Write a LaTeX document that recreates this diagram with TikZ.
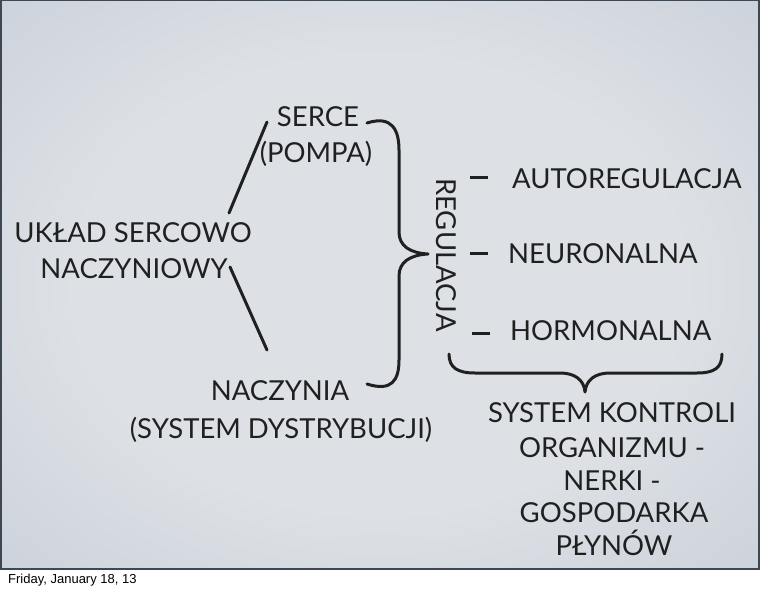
\documentclass[tikz,border=0pt]{standalone}
\usepackage{fontspec}
\setmainfont{Lato}
\newfontfamily\footfont{Liberation Sans}
\usetikzlibrary{calc}
\definecolor{slideink}{HTML}{202020}
\definecolor{slideedge}{HTML}{3E4852}
\definecolor{bginner}{HTML}{DDE1E6}
\definecolor{bgouter}{HTML}{A7B2C0}
\pgfdeclareradialshading{slidebg}{\pgfpoint{0bp}{0bp}}{color(0bp)=(bginner); color(20bp)=(bginner); color(71bp)=(bgouter)}

\begin{document}
\begin{tikzpicture}[x=1pt,y=-1pt,
	word/.style={text=slideink,inner sep=0pt,font=\fontsize{27.5}{32}\selectfont},
	stroke/.style={slideink,line width=3pt,line cap=round,line join=round}]
	\useasboundingbox (0,0) rectangle (760,591);
	\fill[white] (0,0) rectangle (760,591);
	\shade[shading=slidebg] (0,0) rectangle (759,569);
	\draw[slideedge,line width=1.5pt] (0.75,0.75) rectangle (759,569);

	% left part
	\node[word,anchor=base] (serce) at (318,127) {SERCE};
	\node[word,anchor=base] (pompa) at (316,162) {(POMPA)};
	\node[word,anchor=base] (uklad) at (133,242) {UKŁAD SERCOWO};
	\node[word,anchor=base] (naczyniowy) at (134,278) {NACZYNIOWY};
	\node[word,anchor=base] (naczynia) at (280,400) {NACZYNIA};
	\node[word,anchor=base] (dystr) at (281,438) {(SYSTEM DYSTRYBUCJI)};
	\coordinate (hub up) at (229,213);
	\coordinate (hub down) at (230,267);
	\coordinate (serce end) at (267,122);
	\coordinate (naczynia end) at (267,350);
	\draw[stroke] (hub up) -- (serce end);
	\draw[stroke] (hub down) -- (naczynia end);

	% brace
	\draw[stroke] (367,123) .. controls (392,115) and (399,130) .. (399,150) -- (399,232)
		.. controls (399,246) and (410,253) .. (428,254)
		.. controls (410,255) and (399,262) .. (399,276) -- (399,360)
		.. controls (399,380) and (392,392) .. (367,384);
	\node[word,rotate=-90] (regulacja) at (446,255) {REGULACJA};

	% right part
	\node[word,anchor=base west] (auto) at (512,188) {AUTOREGULACJA};
	\node[word,anchor=base west] (neuro) at (508,263) {NEURONALNA};
	\node[word,anchor=base west] (hormo) at (510,340) {HORMONALNA};
	\foreach \y/\x in {177/470,253/470,333/472}{
		\draw[slideink,line width=3pt] (\x,\y) -- ++(18,0);
	}
	\draw[stroke] (449,354) .. controls (449,368) and (458,373) .. (475,373) -- (560,373)
		.. controls (575,373) and (584,380) .. (585,392)
		.. controls (586,380) and (595,373) .. (610,373) -- (697,373)
		.. controls (714,373) and (722,368) .. (722,354);
	\node[word,anchor=base] (kontroli) at (612,422) {SYSTEM KONTROLI};
	\node[word,anchor=base] (organizmu) at (612,457) {ORGANIZMU -};
	\node[word,anchor=base] (nerki) at (612,490) {NERKI -};
	\node[word,anchor=base] (gospodarka) at (614,522) {GOSPODARKA};
	\node[word,anchor=base] (plynow) at (614,555) {PŁYNÓW};

	\node[anchor=base west,inner sep=0pt,font=\footfont\fontsize{13}{15}\selectfont] (date) at (8,583) {Friday, January 18, 13};
\end{tikzpicture}
\end{document}
